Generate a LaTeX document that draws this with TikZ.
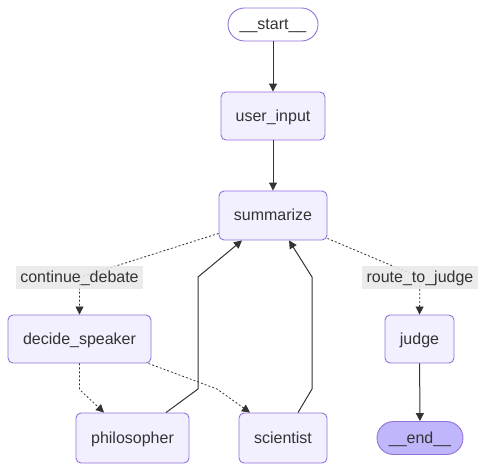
\documentclass[tikz,border=0pt]{standalone}
\usepackage{fontspec}
\setmainfont{Liberation Sans}
\usetikzlibrary{arrows.meta, positioning, calc}
\definecolor{nodefill}{HTML}{F2F0FF}
\definecolor{nodeline}{HTML}{9370DB}
\definecolor{endfill}{HTML}{BFB6FC}
\definecolor{inkgray}{HTML}{333333}
\definecolor{labelbg}{HTML}{E8E8E8}

\begin{document}
\begin{tikzpicture}[
  x=1pt, y=1pt,
  >={Triangle[length=8pt, width=8pt]},
  every node/.style={text=inkgray, font=\fontsize{16pt}{19pt}\selectfont, text height=13pt, text depth=2pt},
  block/.style={rectangle, rounded corners=5pt, draw=nodeline, fill=nodefill, line width=0.9pt, minimum height=48pt, inner sep=0pt},
  terminal/.style={rectangle, rounded corners=16.5pt, draw=nodeline, line width=0.9pt, minimum height=33pt, inner sep=0pt},
  elabel/.style={fill=labelbg, fill opacity=0.85, text opacity=1, minimum height=23pt, inner sep=0pt},
  edge/.style={draw=inkgray, line width=1pt, ->},
  condedge/.style={draw=inkgray, line width=0.8pt, dash pattern=on 2pt off 2pt, ->},
]

\useasboundingbox (0,0) rectangle (486,471);

% Start and end
\node[terminal, fill=white, minimum width=90pt] (start) at (273,446.5) {\_\_start\_\_};
\node[terminal, fill=endfill, minimum width=86pt] (finish) at (420,33) {\_\_end\_\_};

% Main column
\node[block, minimum width=104pt] (userinput) at (273,355) {user\_input};
\node[block, minimum width=108pt, minimum height=49pt] (summarize) at (273,255.5) {summarize};

% Branches
\node[block, minimum width=143pt] (decide) at (79.5,132) {decide\_speaker};
\node[block, minimum width=69pt] (judge) at (419.5,132) {judge};

% Speakers
\node[block, minimum width=113pt, minimum height=50pt] (philosopher) at (132.5,33) {philosopher};
\node[block, minimum width=88pt, minimum height=50pt] (scientist) at (283,33) {scientist};

% Label positions
\coordinate (contpos) at (79.5,193.5);
\coordinate (judgepos) at (420,193.5);

% Straight edges
\draw[edge] (start) -- (userinput);
\draw[edge] (userinput) -- (summarize);
\draw[edge] (judge) -- (finish);

% Conditional edges
\draw[condedge] ($(summarize.south west)+(0,7)$) -- (contpos)
  node[elabel, minimum width=127pt] (contlabel) {continue\_debate} -- (decide.north);
\draw[condedge] ($(summarize.south east)+(0,2)$) -- (judgepos)
  node[elabel, minimum width=116pt] (judgelabel) {route\_to\_judge} -- (judge.north);
\draw[condedge] (decide.south) -- ++(0,-26) -- ($(philosopher.north)+(-28.5,0)$);
\draw[condedge] ($(decide.south east)+(-3,0)$) -- (217,82) -- ($(scientist.north)+(-33,0)$);

% Back to summarize
\draw[edge] ($(philosopher.north)+(33.5,0)$) -- (198,82) -- (198,194) -- ($(summarize.south)+(-31,0)$);
\draw[edge] ($(scientist.north)+(15,0)$) -- (312,82) -- (312,194) -- ($(summarize.south)+(16,0)$);

\end{tikzpicture}
\end{document}
